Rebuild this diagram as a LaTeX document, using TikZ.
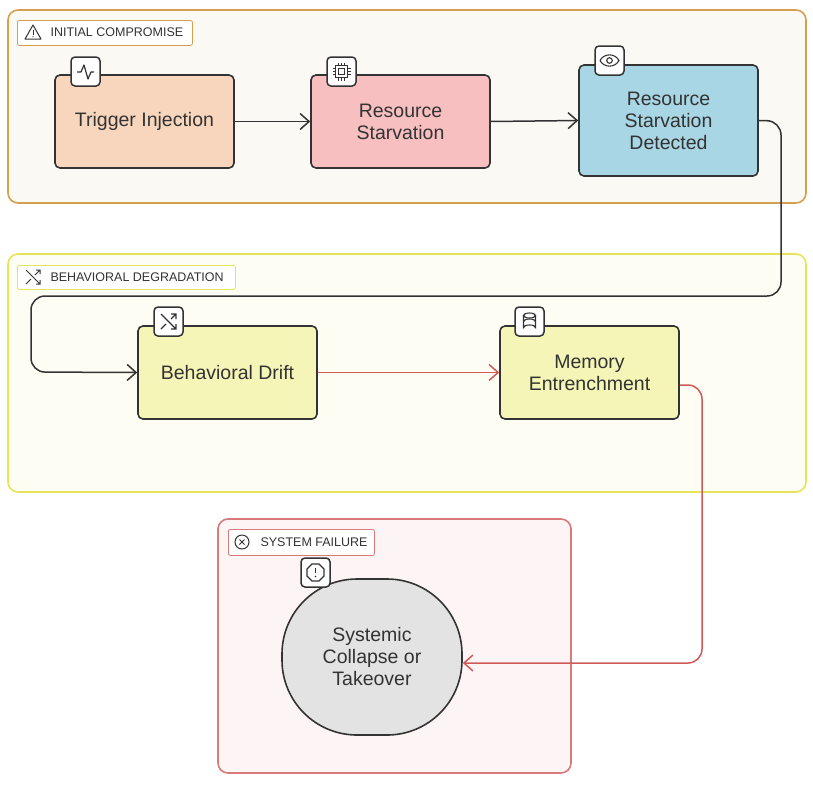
\documentclass[tikz,border=0pt]{standalone}
\usepackage{fontspec}
\setmainfont{Liberation Sans}
\usetikzlibrary{arrows.meta}
\definecolor{g1b}{HTML}{D4A050}\definecolor{g1f}{HTML}{FBF9F4}
\definecolor{g2b}{HTML}{E8E45A}\definecolor{g2f}{HTML}{FDFDF3}
\definecolor{g3b}{HTML}{D87A7A}\definecolor{g3f}{HTML}{FDF5F5}
\definecolor{cOr}{HTML}{F8D6BD}\definecolor{cPk}{HTML}{F8BFC1}
\definecolor{cBl}{HTML}{A8D6E5}\definecolor{cYl}{HTML}{F5F5B8}
\definecolor{cGr}{HTML}{E3E3E3}\definecolor{ln}{HTML}{333333}
\definecolor{rd}{HTML}{D05A5A}
\begin{document}
\begin{tikzpicture}[x=1pt,y=-1pt,
 grp/.style={rounded corners=10pt,line width=1.6pt},
 glab/.style={draw=#1,fill=white,rounded corners=2pt,line width=0.8pt,inner sep=0pt,anchor=north west},
 gtxt/.style={anchor=west,font=\fontsize{12.5}{14}\selectfont,text=ln},
 box/.style={draw=ln,line width=1.6pt,rounded corners=5pt,align=center,font=\fontsize{19.5}{22}\selectfont,inner sep=0pt,text=ln},
 ico/.style={draw=ln,fill=white,line width=1.5pt,rounded corners=4pt,minimum size=29pt,inner sep=0pt},
 arr/.style={line width=1.5pt,-{Straight Barb[length=9pt,width=16pt]}}]
\useasboundingbox (0,0) rectangle (813,785);
% groups
\draw[grp,draw=g1b,fill=g1f] (8,10) rectangle (806,203);
\draw[grp,draw=g2b,fill=g2f] (8,254) rectangle (806,492);
\draw[grp,draw=g3b,fill=g3f] (218,519) rectangle (571,773);
\node[glab=g1b,minimum width=175pt,minimum height=25pt] (l1) at (17,20) {};
\node[gtxt] at (47,32.5) {INITIAL COMPROMISE};
\draw[ln,line width=1pt,line join=round] (33,25)--(41,39)--(25,39)--cycle; \draw[ln,line width=1pt] (33,30)--(33,34.5); \fill[ln] (33,36.7) circle (0.7);
\node[glab=g2b,minimum width=218pt,minimum height=24pt] (l2) at (17,265) {};
\node[gtxt] at (47,277) {BEHAVIORAL DEGRADATION};
\draw[ln,line width=1pt] (26,270)--(40,284) (26,284)--(31,279) (35,275)--(40,270) (36,270)--(40,270)--(40,274) (36,284)--(40,284)--(40,280);
\node[glab=g3b,minimum width=146pt,minimum height=26pt] (l3) at (228,529) {};
\node[gtxt] at (257,542) {SYSTEM FAILURE};
\draw[ln,line width=1pt] (242,542) circle (7); \draw[ln,line width=1pt] (239.5,539.5)--(244.5,544.5) (239.5,544.5)--(244.5,539.5);
% nodes
\node[box,fill=cOr,minimum width=179pt,minimum height=93pt] (t) at (144.5,121.5) {Trigger Injection};
\node[box,fill=cPk,minimum width=179pt,minimum height=93pt] (r) at (400.5,121.5) {Resource\\Starvation};
\node[box,fill=cBl,minimum width=179pt,minimum height=111pt] (d) at (668.5,120.5) {Resource\\Starvation\\Detected};
\node[box,fill=cYl,minimum width=179pt,minimum height=93pt] (b) at (227.5,372.5) {Behavioral Drift};
\node[box,fill=cYl,minimum width=179pt,minimum height=93pt] (m) at (589.5,372.5) {Memory\\Entrenchment};
\node[box,fill=cGr,minimum width=180pt,minimum height=156pt,rounded corners=75pt] (s) at (372,657) {Systemic\\Collapse or\\Takeover};
% icons
\node[ico] (i1) at (85.5,71.5) {}; \draw[ln,line width=1.2pt,line join=round] (77,72)--(81,72)--(84,65)--(88,79)--(91,72)--(94,72);
\node[ico] (i2) at (341.5,71.5) {}; \draw[ln,line width=1.1pt] (335.5,65.5) rectangle (347.5,77.5) (338.5,68.5) rectangle (344.5,74.5);
\foreach \k in {338.5,341.5,344.5}{\draw[ln,line width=1pt] (\k,62.5)--(\k,65.5) (\k,77.5)--(\k,80.5) (332.5,\k-270)--(335.5,\k-270) (347.5,\k-270)--(350.5,\k-270);}
\node[ico] (i3) at (609.5,60.5) {}; \draw[ln,line width=1.1pt] (600,60.5) .. controls (604,53) and (615,53) .. (619,60.5) .. controls (615,68) and (604,68) .. (600,60.5); \draw[ln,line width=1.1pt] (609.5,60.5) circle (2.8);
\node[ico] (i4) at (168.5,321.5) {}; \draw[ln,line width=1.1pt] (161,314)--(176,329) (161,329)--(166,324) (171,319)--(176,314) (171,314)--(176,314)--(176,319) (171,329)--(176,329)--(176,324);
\node[ico] (i5) at (529.5,321.5) {}; \draw[ln,line width=1.1pt] (529.5,315.5) ellipse (6 and 2.5); \draw[ln,line width=1.1pt] (523.5,315.5)--(523.5,327.5) arc (180:0:6 and -2.5)--(535.5,315.5); \draw[ln,line width=1.1pt] (523.5,321.5) arc (180:0:6 and -2.5);
\node[ico] (i6) at (315.5,572.5) {}; \draw[ln,line width=1.1pt] (312,564)--(319,564)--(324,569)--(324,576)--(319,581)--(312,581)--(307,576)--(307,569)--cycle; \draw[ln,line width=1.1pt] (315.5,567.5)--(315.5,573); \fill[ln] (315.5,576.5) circle (0.9);
% edges
\draw[arr,ln] (t.east) -- (r.west);
\draw[arr,ln] (r.east) -- (d.west);
\draw[arr,ln,rounded corners=14pt] (d.east) -- (781,121) -- (781,296) -- (31,296) -- (31,372) -- (b.west);
\draw[arr,rd] (b.east) -- (m.west);
\draw[arr,rd,rounded corners=14pt] (m.east |- 0,385) -- (702,385) -- (702,663) -- (s.east |- 0,663);
\end{tikzpicture}
\end{document}
